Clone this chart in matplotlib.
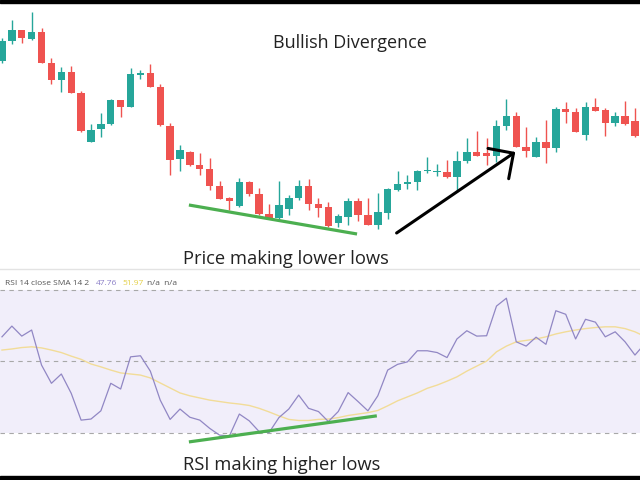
import numpy as np
import matplotlib
matplotlib.use('Agg')
import matplotlib.pyplot as plt
from matplotlib.patches import Rectangle
from matplotlib.lines import Line2D

plt.rcParams['font.family'] = ['Open Sans', 'DejaVu Sans']

# candle data (arbitrary price units)
opens  = [239, 259, 270, 261, 268, 237, 220, 228, 207, 158, 171, 176, 200, 193, 225, 227, 213, 174, 141, 148,
          135, 131, 114, 102, 94, 118, 106, 86, 82, 91, 102, 114, 96, 93, 77, 83, 99, 85, 75, 87,
          110, 116, 118, 129, 128, 128, 123, 139, 148, 147, 144, 174, 184, 153, 143, 158, 152, 191, 188, 165,
          193, 190, 177, 184, 179]
highs  = [262, 280, 270, 288, 272, 242, 233, 234, 209, 176, 187, 201, 200, 232, 230, 236, 216, 177, 155, 149,
          147, 142, 119, 103, 122, 119, 112, 96, 119, 105, 120, 121, 102, 98, 86, 102, 102, 102, 107, 112,
          129, 125, 130, 143, 136, 140, 149, 162, 169, 162, 180, 201, 188, 173, 163, 180, 193, 198, 192, 198,
          202, 192, 188, 199, 192]
lows   = [237, 256, 257, 260, 237, 216, 208, 207, 168, 158, 163, 175, 183, 193, 221, 213, 174, 125, 129, 134,
          125, 110, 101, 90, 93, 104, 85, 82, 81, 85, 100, 90, 83, 73, 73, 75, 79, 75, 71, 81,
          109, 111, 110, 127, 124, 122, 108, 137, 144, 135, 138, 170, 153, 143, 143, 137, 148, 177, 168, 160,
          189, 164, 174, 175, 163]
closes = [259, 270, 262, 268, 237, 220, 228, 207, 169, 170, 176, 200, 193, 226, 227, 213, 175, 140, 150, 135,
          131, 114, 101, 99, 118, 106, 86, 82, 95, 102, 114, 96, 92, 74, 84, 99, 85, 75, 88, 111,
          116, 118, 129, 130, 129, 123, 139, 148, 144, 144, 174, 184, 153, 149, 158, 152, 191, 188, 168, 193,
          189, 177, 184, 176, 164]

# RSI 14 and its SMA 14
rsi = [56.9, 59.9, 57.1, 58.8, 49.0, 43.9, 46.5, 41.1, 33.6, 33.9,
       36.2, 43.9, 42.3, 51.3, 51.6, 47.3, 39.2, 33.8, 36.7, 34.4,
       33.6, 31.3, 29.4, 29.2, 35.3, 33.4, 30.4, 30.1, 34.3, 36.7,
       40.6, 36.9, 36.0, 33.2, 36.0, 41.3, 38.8, 36.2, 40.4, 47.6,
       49.2, 49.9, 53.0, 53.0, 52.5, 51.1, 56.3, 58.6, 57.1, 57.2,
       65.5, 67.7, 55.5, 54.3, 56.8, 54.8, 64.2, 63.2, 56.3, 61.8,
       61.0, 56.9, 58.3, 55.5, 51.8, 55.0]
rsi_sma = [53.2, 53.5, 53.9, 54.1, 53.8, 53.2, 52.5, 51.5, 50.6, 49.3,
           48.5, 47.6, 46.8, 46.5, 46.2, 45.4, 44.0, 42.6, 41.2, 40.4,
           39.8, 39.2, 38.8, 38.4, 38.1, 37.7, 36.9, 35.9, 34.8, 33.8,
           33.5, 33.5, 33.8, 33.9, 34.3, 34.9, 35.3, 35.7, 36.3, 37.6,
           39.0, 40.1, 41.2, 42.5, 43.4, 44.5, 45.7, 47.3, 48.7, 50.1,
           52.7, 54.3, 55.5, 55.9, 56.3, 56.9, 57.7, 58.3, 58.8, 59.2,
           59.5, 59.7, 59.7, 59.2, 58.3, 57.0]

# annotation lines
price_trend_x = [18.9, 35.9]
price_trend_y = [95, 66]
rsi_trend_x = [18.9, 37.9]
rsi_trend_y = [27.5, 34.8]
arrow_from = (39.9, 67)
arrow_to = (51.9, 148)

UP = '#26a69a'
DOWN = '#ef5350'

fig = plt.figure(figsize=(6.4, 4.8), dpi=100)
H = 480.0

# price panel
ax = fig.add_axes([0, (H - 268) / H, 1, 265 / H])
x = np.arange(len(opens))
o = np.array(opens, float)
c = np.array(closes, float)
cols = [UP if cc >= oo else DOWN for oo, cc in zip(o, c)]
ax.vlines(x, lows, highs, colors=cols, lw=1)
body = np.maximum(np.abs(c - o), 1.2)
ax.bar(x, body, bottom=np.minimum(o, c), width=0.75, color=cols, linewidth=0)
ax.plot(price_trend_x, price_trend_y, color='#4caf50', lw=2.3, solid_capstyle='butt')
ax.annotate('', xy=arrow_to, xytext=arrow_from,
            arrowprops=dict(arrowstyle='->,head_length=0.6,head_width=0.6', color='black',
                            lw=2.2, mutation_scale=22, shrinkA=0, shrinkB=0))
ax.set_xlim(-0.2, 64.51)
ax.set_ylim(32, 297)
ax.axis('off')

# RSI panel
ax2 = fig.add_axes([0, 4 / H, 1, 206 / H])
ax2.axhspan(30, 70, color='#f1eefa', lw=0)
for lvl in (70, 50, 30):
    ax2.axhline(lvl, color='#a8a8a8', lw=0.8, ls=(0, (4, 4)))
xr = np.arange(len(rsi))
ax2.plot(xr, rsi_sma, color='#f2dc98', lw=1.0)
ax2.plot(xr, rsi, color='#9187c4', lw=0.9)
ax2.plot(rsi_trend_x, rsi_trend_y, color='#4caf50', lw=2.3, solid_capstyle='butt')
ax2.set_xlim(-0.2, 64.51)
ax2.set_ylim(17.97, 75.59)
ax2.axis('off')

# separator and black bands
fig.add_artist(Line2D([0, 1], [1 - 269 / H] * 2, color='#e3e3e3', lw=1))
fig.add_artist(Rectangle((0, 1 - 3 / H), 1, 3 / H, transform=fig.transFigure, color='black'))
fig.add_artist(Rectangle((0, 0), 1, 4 / H, transform=fig.transFigure, color='black'))

# texts
fig.text(350 / 640, 1 - 48 / H, 'Bullish Divergence', ha='center', va='baseline', fontsize=13, color='#222222')
fig.text(183 / 640, 1 - 264 / H, 'Price making lower lows', ha='left', va='baseline', fontsize=13.2, color='#222222')
fig.text(183 / 640, 1 - 470 / H, 'RSI making higher lows', ha='left', va='baseline', fontsize=13.2, color='#222222')

lab_y = 1 - 285 / H
fig.text(5 / 640, lab_y, 'RSI 14 close SMA 14 2', ha='left', va='baseline', fontsize=6, color='#555555')
fig.text(96 / 640, lab_y, '47.76', ha='left', va='baseline', fontsize=6, color='#8b7fc7')
fig.text(122 / 640, lab_y, '51.97', ha='left', va='baseline', fontsize=6, color='#e3cf45')
fig.text(147 / 640, lab_y, 'n/a  n/a', ha='left', va='baseline', fontsize=6, color='#555555')

fig.savefig('out.png', dpi=100, facecolor='white')
